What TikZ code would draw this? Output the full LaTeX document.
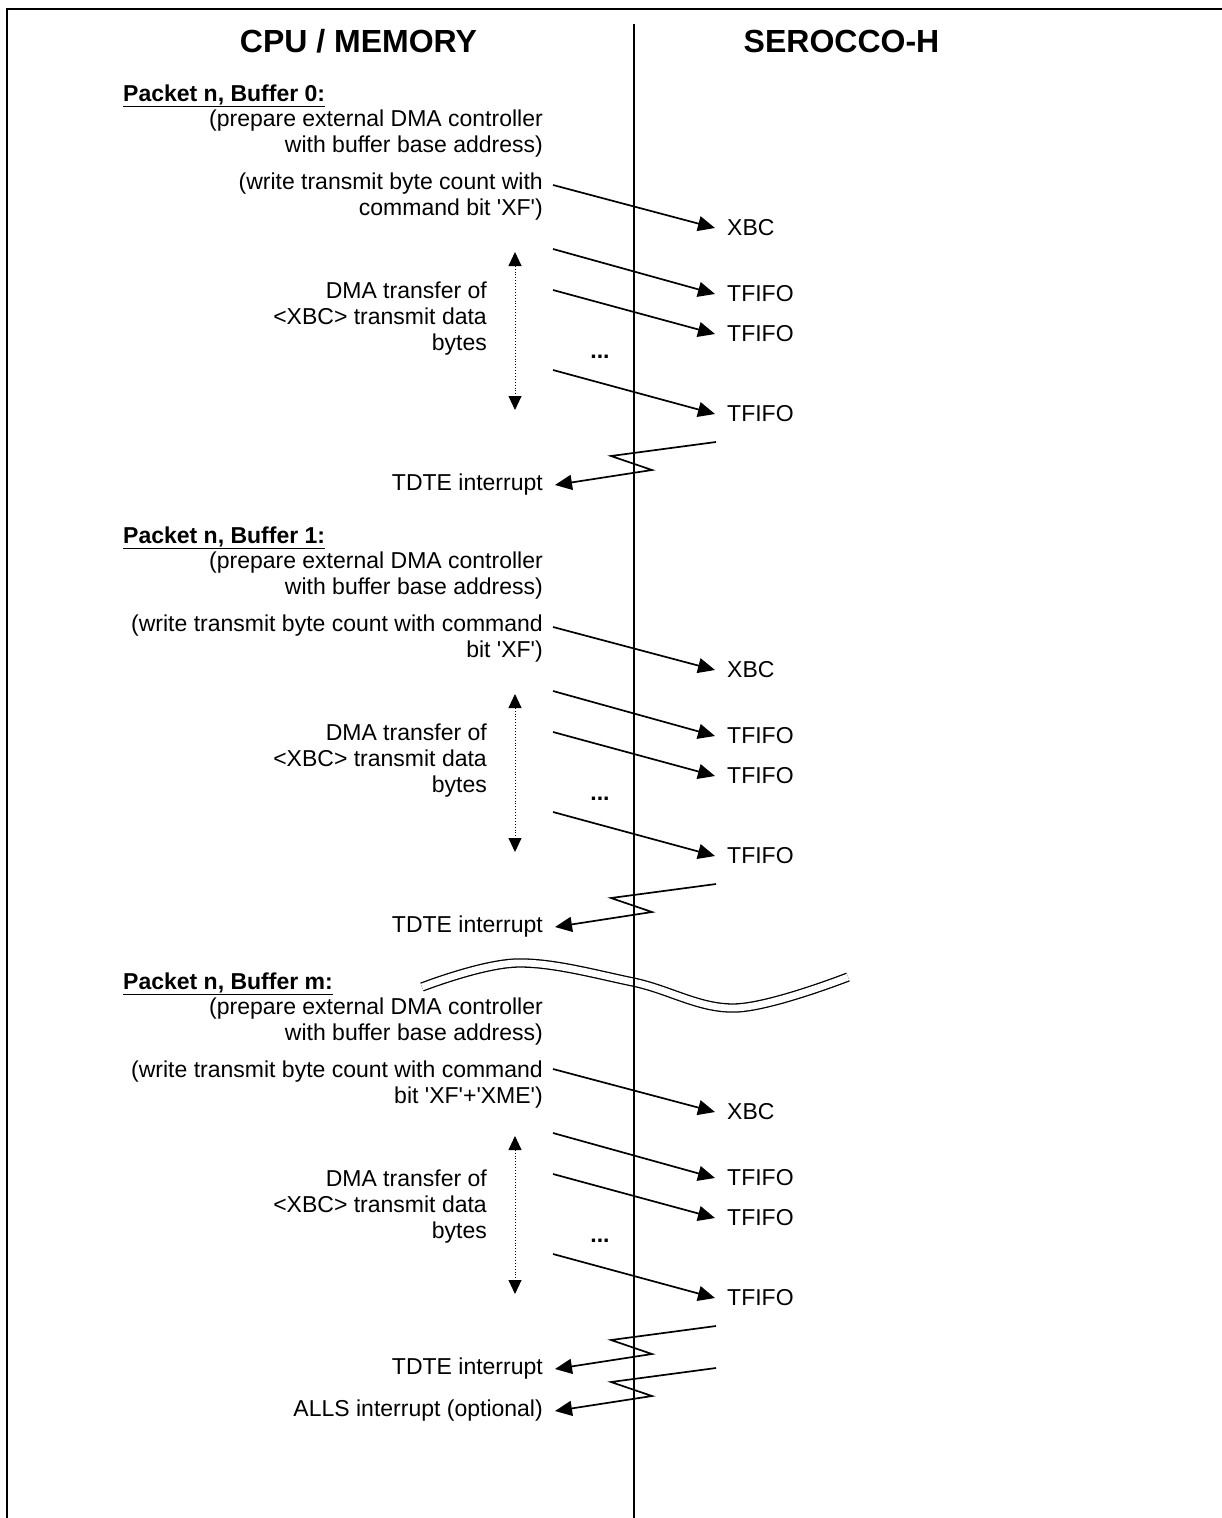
\documentclass[tikz,border=0pt]{standalone}
\usepackage{fontspec}
\setmainfont{Liberation Sans}
\usetikzlibrary{arrows.meta}
\newcommand\sq{\textquotesingle}
\tikzset{
 txt/.style={font=\fontsize{23}{26}\selectfont, align=right, inner sep=0pt},
 hdr/.style={font=\fontsize{23}{26}\selectfont\bfseries, inner sep=0pt, anchor=west},
 ttl/.style={font=\fontsize{32}{36}\selectfont\bfseries, inner sep=0pt},
 lbl/.style={font=\fontsize{23}{26}\selectfont, inner xsep=12pt, inner ysep=0pt, anchor=west},
 ilbl/.style={font=\fontsize{23}{26}\selectfont, inner xsep=12pt, inner ysep=0pt, anchor=east},
 arr/.style={-{Triangle[length=17pt,width=15pt]}, line width=1.7pt},
 dotarr/.style={{Triangle[length=14pt,width=13pt]}-{Triangle[length=14pt,width=13pt]}, dotted, line width=0.9pt},
 frame/.style={line width=2.5pt},
 life/.style={line width=1.7pt},
 wave/.style={double distance=6.8pt, line width=1.3pt},
}
\newcommand\txblock[5]{%
 \begin{scope}[yshift=-#3pt]
  \node[hdr] (hdr#1) at (123,96) {\underline{#4}};
  \node[txt, anchor=east] (prep#1) at (543,134) {(prepare external DMA controller\\with buffer base address)};
  \node[txt, anchor=east] (wr#1) at (543,197) {#5};
  \node[txt, anchor=east] (dma#1) at (487,319) {DMA transfer of\\<XBC> transmit data\\bytes};
 \end{scope}
 \begin{scope}[yshift=-#2pt]
  \coordinate (ws#1) at (553,185);
  \node[lbl] (xbc#1) at (715,228) {XBC};
  \draw[arr] (ws#1) -- (xbc#1.west);
  \coordinate (dt#1) at (515,252);
  \coordinate (db#1) at (515,410);
  \draw[dotarr] (dt#1) -- (db#1);
  \coordinate (ta#1) at (553,249);
  \node[lbl] (tfa#1) at (715,294) {TFIFO};
  \draw[arr] (ta#1) -- (tfa#1.west);
  \coordinate (tb#1) at (553,290);
  \node[lbl] (tfb#1) at (715,334) {TFIFO};
  \draw[arr] (tb#1) -- (tfb#1.west);
  \node[txt] (dots#1) at (600,357) {\textbf{...}};
  \coordinate (tc#1) at (553,370);
  \node[lbl] (tfc#1) at (715,414) {TFIFO};
  \draw[arr] (tc#1) -- (tfc#1.west);
  \coordinate (za#1) at (716,442);
  \coordinate (zb#1) at (611,456);
  \coordinate (zc#1) at (652,470);
  \node[ilbl] (tdte#1) at (555,485) {TDTE interrupt};
  \draw[arr] (za#1) -- (zb#1) -- (zc#1) -- (tdte#1.east);
 \end{scope}}
\begin{document}
\begin{tikzpicture}[x=1pt,y=-1pt]
\useasboundingbox (0,0) rectangle (1222,1518);
\draw[frame] (7,1518) -- (7,9) -- (1222,9);
\draw[wave] plot[smooth,tension=0.6] coordinates {(422,987) (517,963) (633,982) (735,1008) (848,977)};
\coordinate (ltop) at (634,24);
\coordinate (lbot) at (634,1518);
\draw[life] (ltop) -- (lbot);
\node[ttl] (cpu) at (358.5,41) {CPU / MEMORY};
\node[ttl] (sero) at (841.5,41) {SEROCCO-H};
\txblock{0}{0}{0}{Packet n, Buffer 0:}{(write transmit byte count with\\command bit \sq XF\sq)}
\txblock{1}{442}{442}{Packet n, Buffer 1:}{(write transmit byte count with command\\bit \sq XF\sq)}
\txblock{m}{884}{888}{Packet n, Buffer m:}{(write transmit byte count with command\\bit \sq XF\sq+\sq XME\sq)}
\coordinate (aa) at (716,1368);
\coordinate (ab) at (611,1382);
\coordinate (ac) at (652,1396);
\node[ilbl] (alls) at (555,1411) {ALLS interrupt (optional)};
\draw[arr] (aa) -- (ab) -- (ac) -- (alls.east);
\end{tikzpicture}
\end{document}
